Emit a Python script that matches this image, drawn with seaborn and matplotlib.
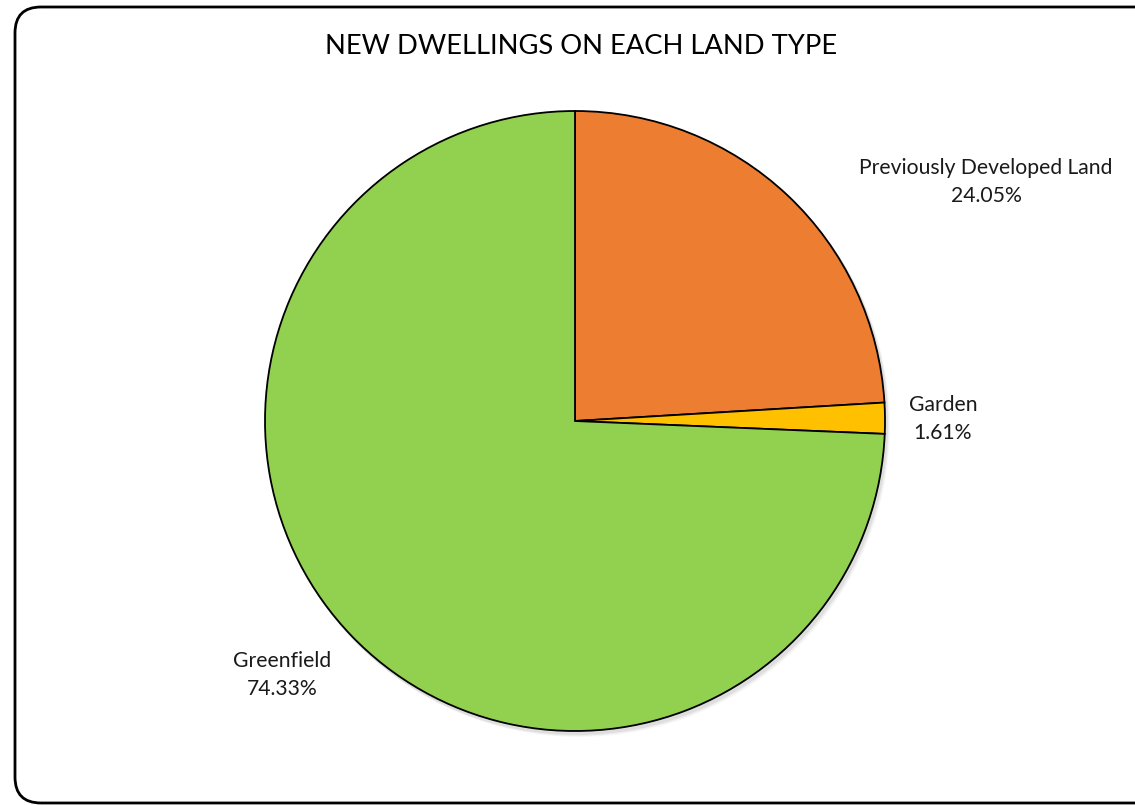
import matplotlib
matplotlib.use("Agg")
import matplotlib.pyplot as plt
from matplotlib.patches import FancyBboxPatch, Circle
import seaborn as sns

sns.set_theme(style="white")
plt.rcParams["font.family"] = ["Lato", "DejaVu Sans"]

# Share of new dwellings by land type (%)
land_types = ["Previously Developed Land", "Garden", "Greenfield"]
shares = [24.05, 1.61, 74.33]
colors = ["#ED7D31", "#FFC000", "#92D050"]

W, H = 1135, 805
fig = plt.figure(figsize=(W / 100, H / 100), dpi=100)
fig.patch.set_facecolor("white")

ax = fig.add_axes([0, 0, 1, 1])
ax.set_facecolor("white")

cx, cy, r = 575, H - 421, 310

wedges, _ = ax.pie(shares, colors=colors, startangle=90, counterclock=False,
                   center=(cx, cy), radius=r, frame=True,
                   wedgeprops=dict(edgecolor="black", linewidth=1.3))
for w in wedges:
    w.set_zorder(2)

# soft shadow under the pie
for i, a in enumerate([0.06, 0.04, 0.03]):
    ax.add_patch(Circle((cx + 2 + i, cy - 3 - i), r + 1, color="black",
                        alpha=a, lw=0, zorder=1))

# rounded chart frame
ax.add_patch(FancyBboxPatch((15, 2), 1160, H - 9,
                            boxstyle="round,pad=0,rounding_size=26",
                            facecolor="none", edgecolor="black",
                            linewidth=2.0, zorder=0.5))

ax.set_xlim(0, W)
ax.set_ylim(0, H)
ax.set_aspect("equal")
ax.axis("off")

label_pos = [(986, H - 182), (943, H - 419), (282, H - 675)]
for name, val, (x, y) in zip(land_types, shares, label_pos):
    ax.text(x, y, f"{name}\n{val:.2f}%", ha="center", va="center",
            fontsize=15.2, color="#1a1a1a", linespacing=1.45, zorder=3)

ax.text(581, H - 46, "NEW DWELLINGS ON EACH LAND TYPE", ha="center",
        va="center", fontsize=19.7, color="black", zorder=3)

fig.savefig("out.png", dpi=100)
